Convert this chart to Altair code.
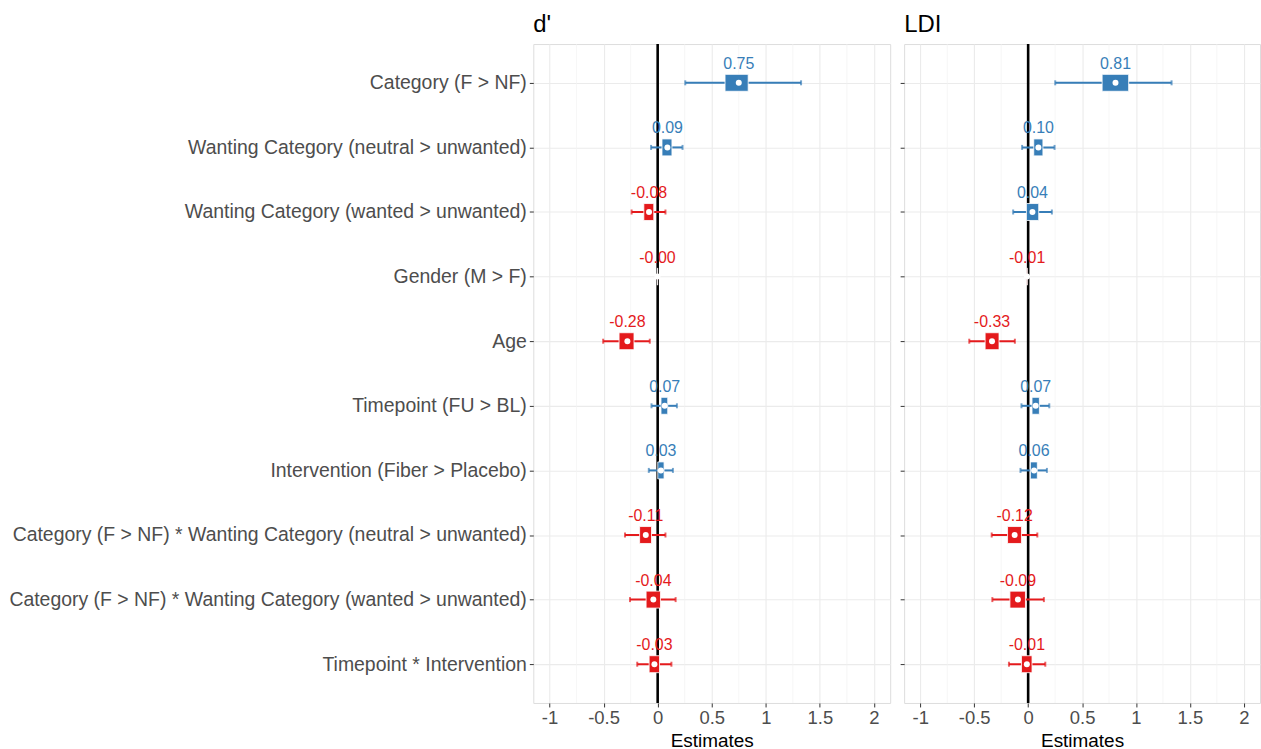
import altair as alt
import pandas as pd

terms = [
    "Category (F > NF)",
    "Wanting Category (neutral > unwanted)",
    "Wanting Category (wanted > unwanted)",
    "Gender (M > F)",
    "Age",
    "Timepoint (FU > BL)",
    "Intervention (Fiber > Placebo)",
    "Category (F > NF) * Wanting Category (neutral > unwanted)",
    "Category (F > NF) * Wanting Category (wanted > unwanted)",
    "Timepoint * Intervention",
]

# d' model
dp_est = [0.75, 0.09, -0.08, -0.002, -0.28, 0.065, 0.03, -0.11, -0.04, -0.03]
dp_label = ["0.75", "0.09", "-0.08", "-0.00", "-0.28", "0.07", "0.03", "-0.11", "-0.04", "-0.03"]
dp_ci_lo = [0.255, -0.061, -0.241, -0.006, -0.504, -0.057, -0.082, -0.302, -0.256, -0.189]
dp_ci_hi = [1.326, 0.230, 0.072, 0.003, -0.073, 0.178, 0.141, 0.072, 0.166, 0.127]
dp_box_lo = [0.623, 0.040, -0.128, -0.003, -0.357, 0.031, 0.001, -0.167, -0.107, -0.079]
dp_box_hi = [0.837, 0.132, -0.036, 0.000, -0.219, 0.093, 0.059, -0.057, 0.026, 0.017]

# LDI model
ldi_est = [0.81, 0.095, 0.04, -0.01, -0.335, 0.07, 0.055, -0.125, -0.095, -0.012]
ldi_label = ["0.81", "0.10", "0.04", "-0.01", "-0.33", "0.07", "0.06", "-0.12", "-0.09", "-0.01"]
ldi_ci_lo = [0.251, -0.056, -0.139, -0.015, -0.546, -0.062, -0.071, -0.338, -0.332, -0.178]
ldi_ci_hi = [1.330, 0.245, 0.220, -0.005, -0.123, 0.196, 0.174, 0.085, 0.146, 0.159]
ldi_box_lo = [0.686, 0.052, -0.016, -0.012, -0.399, 0.036, 0.021, -0.191, -0.169, -0.062]
ldi_box_hi = [0.932, 0.137, 0.098, -0.008, -0.270, 0.104, 0.085, -0.062, -0.025, 0.036]

major_ticks = [-1, -0.5, 0, 0.5, 1, 1.5, 2]
minor_ticks = [-0.75, -0.25, 0.25, 0.75, 1.25, 1.75]

RED = "#E41A1C"
BLUE = "#377EB8"
FONT = "Liberation Sans"
PLOT_H = 661


def make_df(est, lab, lo, hi, blo, bhi):
    return pd.DataFrame({
        "term": terms,
        "est": est,
        "label": lab,
        "ci_lo": lo,
        "ci_hi": hi,
        "box_lo": blo,
        "box_hi": bhi,
        "sign": ["neg" if e < 0 else "pos" for e in est],
    })


def panel(df, title, width, show_labels):
    xscale = alt.Scale(domain=[-1.15, 2.15], nice=False, zero=False)
    xaxis = alt.Axis(values=major_ticks, labelExpr="'' + datum.value", grid=True,
                     gridColor="#EBEBEB", gridWidth=1.1, domain=False,
                     tickSize=4, tickColor="#333333", labelFontSize=18.5,
                     labelColor="#4D4D4D", labelFont=FONT, labelPadding=2,
                     titleFontSize=19, titleFont=FONT, titleColor="black",
                     titleFontWeight="normal", titlePadding=4)

    def X(field):
        return alt.X(field, type="quantitative", scale=xscale, axis=xaxis, title="Estimates")

    if show_labels:
        yaxis = alt.Axis(title=None, labels=True, labelFontSize=19.5, labelColor="#4D4D4D",
                         labelFont=FONT, labelPadding=3, tickSize=4, tickColor="#333333",
                         domain=False, grid=True, gridColor="#EBEBEB", gridWidth=1.1,
                         minExtent=529, maxExtent=529, labelLimit=0)
    else:
        yaxis = alt.Axis(title=None, labels=False, tickSize=4, tickColor="#333333",
                         domain=False, grid=True, gridColor="#EBEBEB", gridWidth=1.1,
                         minExtent=4, maxExtent=4)
    Y = alt.Y("term:N", sort=terms, scale=alt.Scale(type="point", padding=0.6), axis=yaxis)
    col = alt.Color("sign:N", scale=alt.Scale(domain=["neg", "pos"], range=[RED, BLUE]), legend=None)

    base = alt.Chart(df)
    minor = alt.Chart(pd.DataFrame({"v": minor_ticks})).mark_rule(
        color="#F2F2F2", strokeWidth=0.7).encode(x=X("v"))
    zero = alt.Chart(pd.DataFrame({"v": [0]})).mark_rule(
        color="black", strokeWidth=2.6).encode(x=X("v"))
    whisk = base.mark_rule(strokeWidth=2).encode(x=X("ci_lo"), x2="ci_hi", y=Y, color=col)
    cap_lo = base.mark_tick(thickness=2, size=5).encode(x=X("ci_lo"), y=Y, color=col)
    cap_hi = base.mark_tick(thickness=2, size=5).encode(x=X("ci_hi"), y=Y, color=col)
    box = base.mark_bar(size=17, stroke="white", strokeWidth=0.8).encode(
        x=X("box_lo"), x2="box_hi", y=Y, color=col)
    pt = base.mark_point(filled=True, color="white", size=36, opacity=1).encode(x=X("est"), y=Y)
    txt = base.mark_text(dy=-14, baseline="alphabetic", fontSize=16, font=FONT).encode(
        x=X("est"), y=Y, text="label:N", color=col)

    return alt.layer(minor, zero, whisk, cap_lo, cap_hi, box, pt, txt).properties(
        width=width, height=PLOT_H,
        title=alt.TitleParams(title, anchor="start", frame="group", fontSize=24, font=FONT,
                              fontWeight="normal", color="black", offset=6),
    )


left = panel(make_df(dp_est, dp_label, dp_ci_lo, dp_ci_hi, dp_box_lo, dp_box_hi), "d'", 358, True)
right = panel(make_df(ldi_est, ldi_label, ldi_ci_lo, ldi_ci_hi, ldi_box_lo, ldi_box_hi), "LDI", 357, False)

chart = alt.hconcat(left, right, spacing=8).properties(
    padding={"left": 5, "top": 11, "right": 0, "bottom": 0}
).configure_view(stroke="#8C8C8C", strokeWidth=1).configure(background="white")

chart.save("out.html", embed_options={"renderer": "svg", "actions": False})
